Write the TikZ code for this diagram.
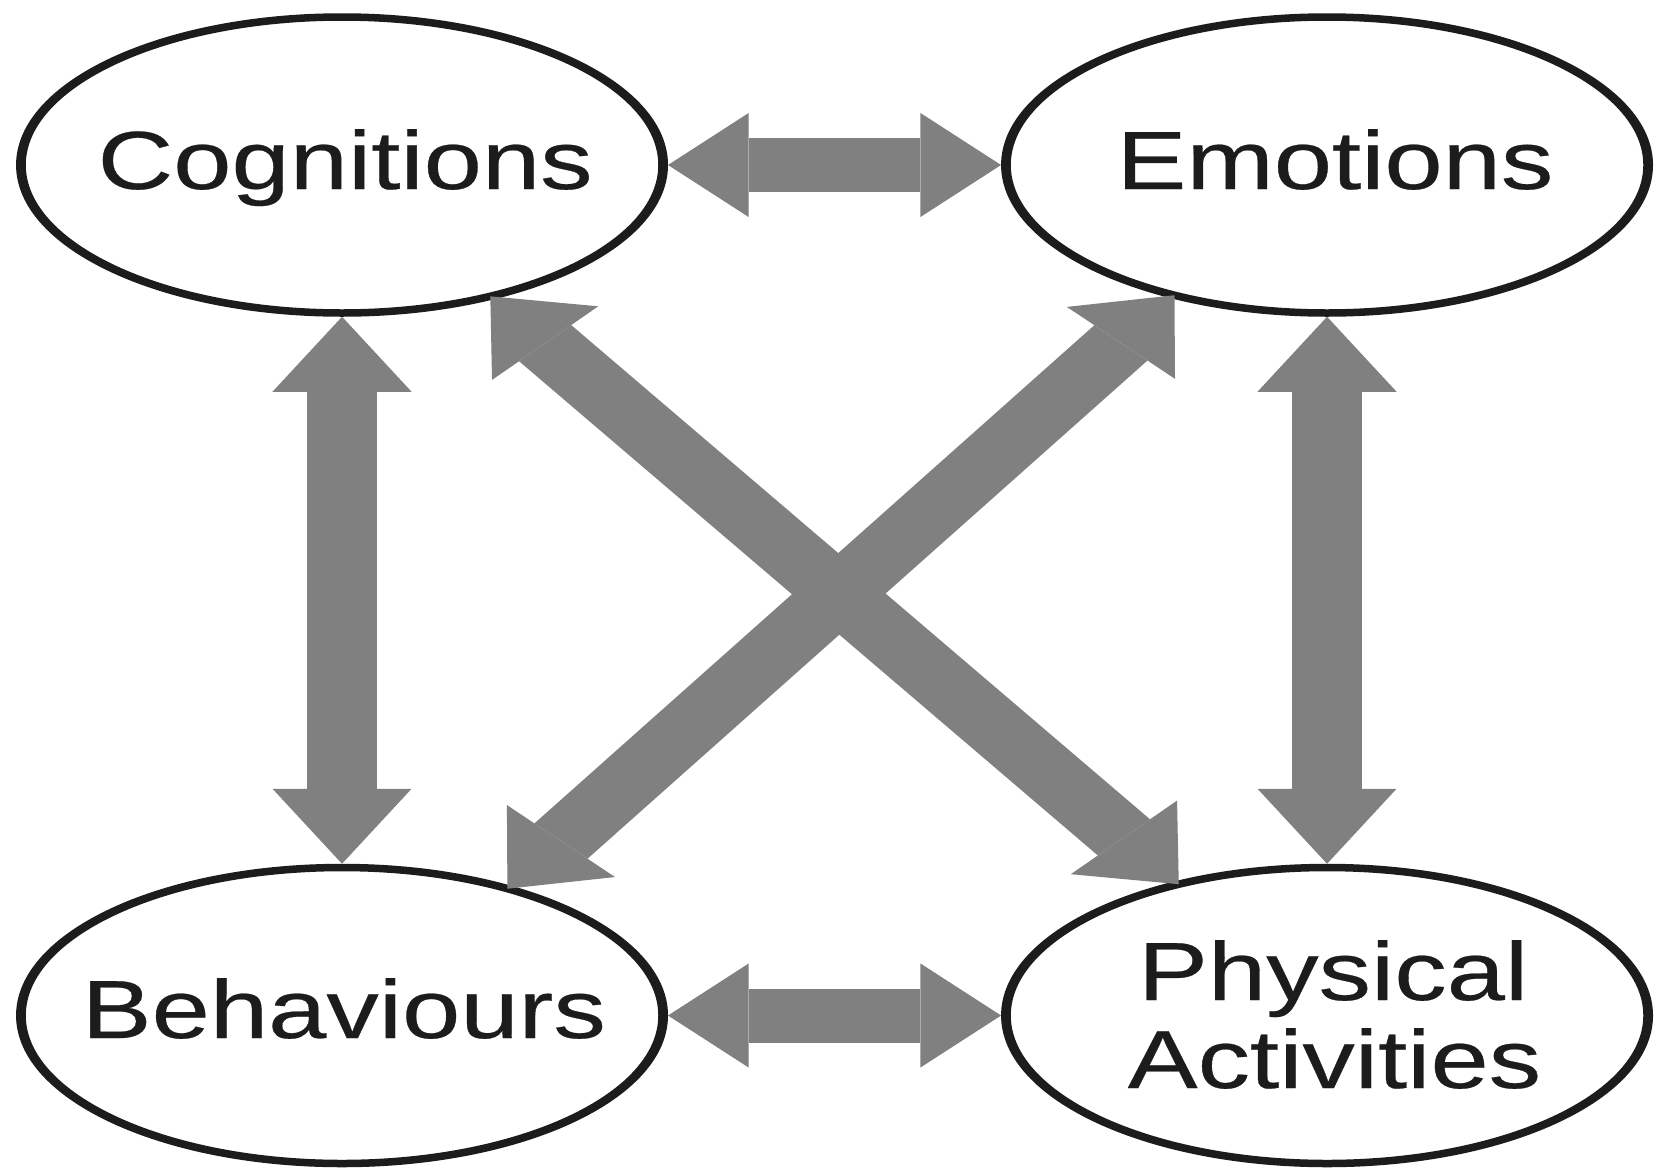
\documentclass[tikz,border=0pt]{standalone}
\usepackage{fontspec}
\usetikzlibrary{shapes.geometric,arrows.meta}
\newfontfamily\labelfont[FakeStretch=0.977,FakeBold=0.3]{Liberation Sans}
\definecolor{inkc}{RGB}{28,28,28}
\definecolor{arrowgray}{RGB}{128,128,128}
\tikzset{
  blob/.style={ellipse, draw=inkc, line width=7.5pt, fill=white,
    minimum width=494pt, minimum height=296pt, inner sep=0pt},
  lbl/.style={font=\labelfont\fontsize{82.5}{88}\selectfont, text=inkc,
    inner sep=0pt, anchor=base},
  link/.style={draw=arrowgray, line width=54pt},
  linkH/.style={link, {Triangle[length=62pt,width=104pt,line width=0pt]}-{Triangle[length=62pt,width=104pt,line width=0pt]}},
  linkV/.style={link, {Triangle[length=75pt,width=107pt,line width=0pt]}-{Triangle[length=75pt,width=107pt,line width=0pt]}},
  linkD/.style={link, shorten <=-4pt, shorten >=-4pt,
    {Triangle[length=63pt,width=110pt,line width=0pt]}-{Triangle[length=63pt,width=110pt,line width=0pt]}},
}
\begin{document}
\begin{tikzpicture}[x=1pt,y=-1pt]
  \useasboundingbox (0,0) rectangle (1659,1170);
  \begin{scope}[transform canvas={xscale=1.3}]
    % the four states
    \node[blob] (cog) at (263.1,165) {};
    \node[blob] (emo) at (1020.8,165) {};
    \node[blob] (beh) at (263.1,1015.5) {};
    \node[blob] (phy) at (1020.8,1015.5) {};
    % labels
    \node[lbl] (cogtxt) at (265.5,189) {Cognitions};
    \node[lbl] (emotxt) at (1026.9,189) {Emotions};
    \node[lbl] (behtxt) at (264.5,1038) {Behaviours};
    \node[lbl] (phytxta) at (1025.5,1000) {Physical};
    \node[lbl] (phytxtb) at (1026.5,1088) {Activities};
    % two-way links
    \draw[linkH] (cog.east) -- (emo.west);
    \draw[linkH] (beh.east) -- (phy.west);
    \draw[linkV] (cog.south) -- (beh.north);
    \draw[linkV] (emo.south) -- (phy.north);
    \draw[linkD] (cog.-49) -- (phy.131.3);
    \draw[linkD] (emo.-132.6) -- (beh.45.3);
  \end{scope}
\end{tikzpicture}
\end{document}
